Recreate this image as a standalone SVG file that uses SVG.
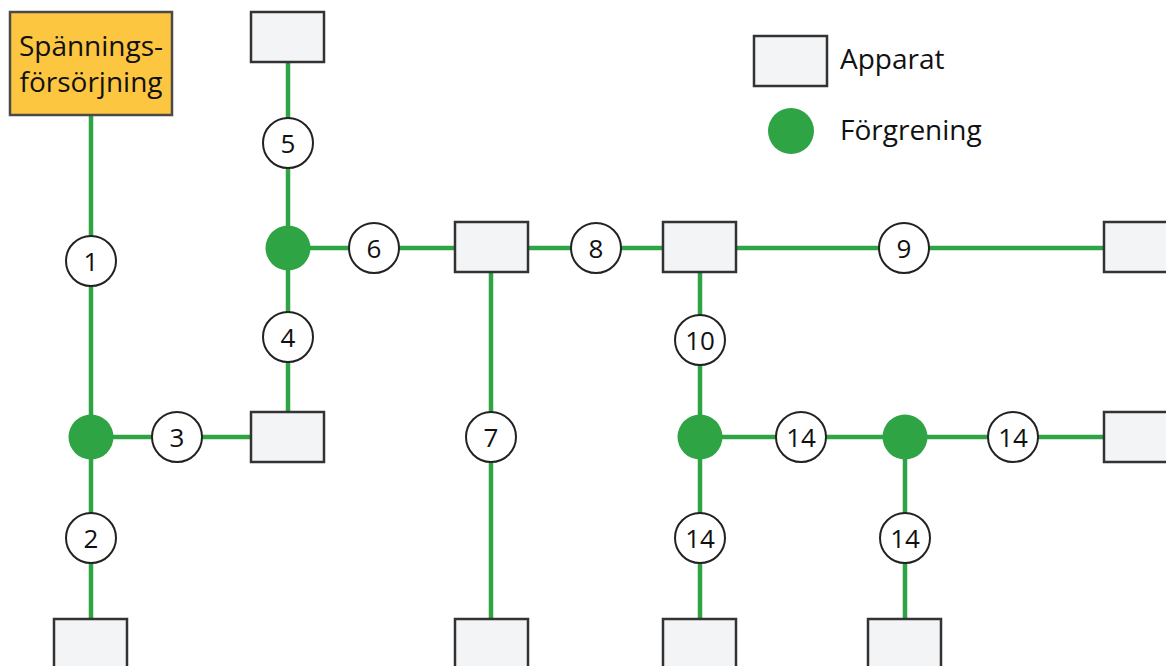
<svg xmlns="http://www.w3.org/2000/svg" width="1166" height="666" viewBox="0 0 1166 666">
<style>
.w{stroke:#2ea444;stroke-width:4.5;fill:none}
.box{fill:#f3f4f6;stroke:#333;stroke-width:2.5}
.ps{fill:#fdc640;stroke:#4a4a4a;stroke-width:2.5}
.lab{fill:#fff;stroke:#222;stroke-width:2}
.j{fill:#2ea444}
text{font-family:"Open Sans","Liberation Sans",sans-serif;fill:#111}
.n{font-size:26px;text-anchor:middle;dominant-baseline:central}
.t{font-size:28px}
</style>
<rect width="1166" height="666" fill="#fff"/>
<g id="connectors">
<line class="w" x1="91" y1="115" x2="91" y2="619"/>
<line class="w" x1="91" y1="437" x2="251" y2="437"/>
<line class="w" x1="288" y1="62" x2="288" y2="412"/>
<line class="w" x1="288" y1="248" x2="455" y2="248"/>
<line class="w" x1="528" y1="248" x2="663" y2="248"/>
<line class="w" x1="736" y1="248" x2="1104" y2="248"/>
<line class="w" x1="491" y1="272" x2="491" y2="619"/>
<line class="w" x1="700" y1="272" x2="700" y2="619"/>
<line class="w" x1="700" y1="437" x2="1104" y2="437"/>
<line class="w" x1="905" y1="437" x2="905" y2="619"/>
</g>
<g id="power"><rect class="ps" x="10" y="12" width="162" height="103"/>
<text class="t" x="91" y="56" text-anchor="middle">Spännings-</text>
<text class="t" x="91" y="92" text-anchor="middle">försörjning</text></g>
<g id="dev1"><rect class="box" x="251" y="12" width="73" height="50"/></g>
<g id="dev2"><rect class="box" x="251" y="412" width="73" height="50"/></g>
<g id="dev3"><rect class="box" x="54" y="619" width="73" height="60"/></g>
<g id="dev4"><rect class="box" x="455" y="222" width="73" height="50"/></g>
<g id="dev5"><rect class="box" x="663" y="222" width="73" height="50"/></g>
<g id="dev6"><rect class="box" x="1104" y="222" width="73" height="50"/></g>
<g id="dev7"><rect class="box" x="455" y="619" width="73" height="60"/></g>
<g id="dev8"><rect class="box" x="1104" y="412" width="73" height="50"/></g>
<g id="dev9"><rect class="box" x="663" y="619" width="73" height="60"/></g>
<g id="dev10"><rect class="box" x="868" y="619" width="73" height="60"/></g>
<g id="j1"><circle class="j" cx="91" cy="437" r="22.5"/></g>
<g id="j2"><circle class="j" cx="288" cy="248" r="22.5"/></g>
<g id="j3"><circle class="j" cx="700" cy="437" r="22.5"/></g>
<g id="j4"><circle class="j" cx="905" cy="437" r="22.5"/></g>
<g id="c1"><circle class="lab" cx="91" cy="261" r="25"/><text class="n" x="91" y="261">1</text></g>
<g id="c2"><circle class="lab" cx="91" cy="538" r="25"/><text class="n" x="91" y="538">2</text></g>
<g id="c3"><circle class="lab" cx="177" cy="437" r="25"/><text class="n" x="177" y="437">3</text></g>
<g id="c4"><circle class="lab" cx="288" cy="337" r="25"/><text class="n" x="288" y="337">4</text></g>
<g id="c5"><circle class="lab" cx="288" cy="143" r="25"/><text class="n" x="288" y="143">5</text></g>
<g id="c6"><circle class="lab" cx="374" cy="248" r="25"/><text class="n" x="374" y="248">6</text></g>
<g id="c7"><circle class="lab" cx="491" cy="437" r="25"/><text class="n" x="491" y="437">7</text></g>
<g id="c8"><circle class="lab" cx="596" cy="248" r="25"/><text class="n" x="596" y="248">8</text></g>
<g id="c9"><circle class="lab" cx="904" cy="248" r="25"/><text class="n" x="904" y="248">9</text></g>
<g id="c10"><circle class="lab" cx="700" cy="340" r="25"/><text class="n" x="700" y="340">10</text></g>
<g id="c14a"><circle class="lab" cx="801" cy="437" r="25"/><text class="n" x="801" y="437">14</text></g>
<g id="c14b"><circle class="lab" cx="1013" cy="437" r="25"/><text class="n" x="1013" y="437">14</text></g>
<g id="c14c"><circle class="lab" cx="700" cy="538" r="25"/><text class="n" x="700" y="538">14</text></g>
<g id="c14d"><circle class="lab" cx="905" cy="538" r="25"/><text class="n" x="905" y="538">14</text></g>
<g id="legend">
<rect class="box" x="754" y="36" width="73" height="50"/>
<text class="t" x="840" y="69">Apparat</text>
<circle class="j" cx="791" cy="131" r="23"/>
<text class="t" x="840" y="140">Förgrening</text>
</g>
</svg>
